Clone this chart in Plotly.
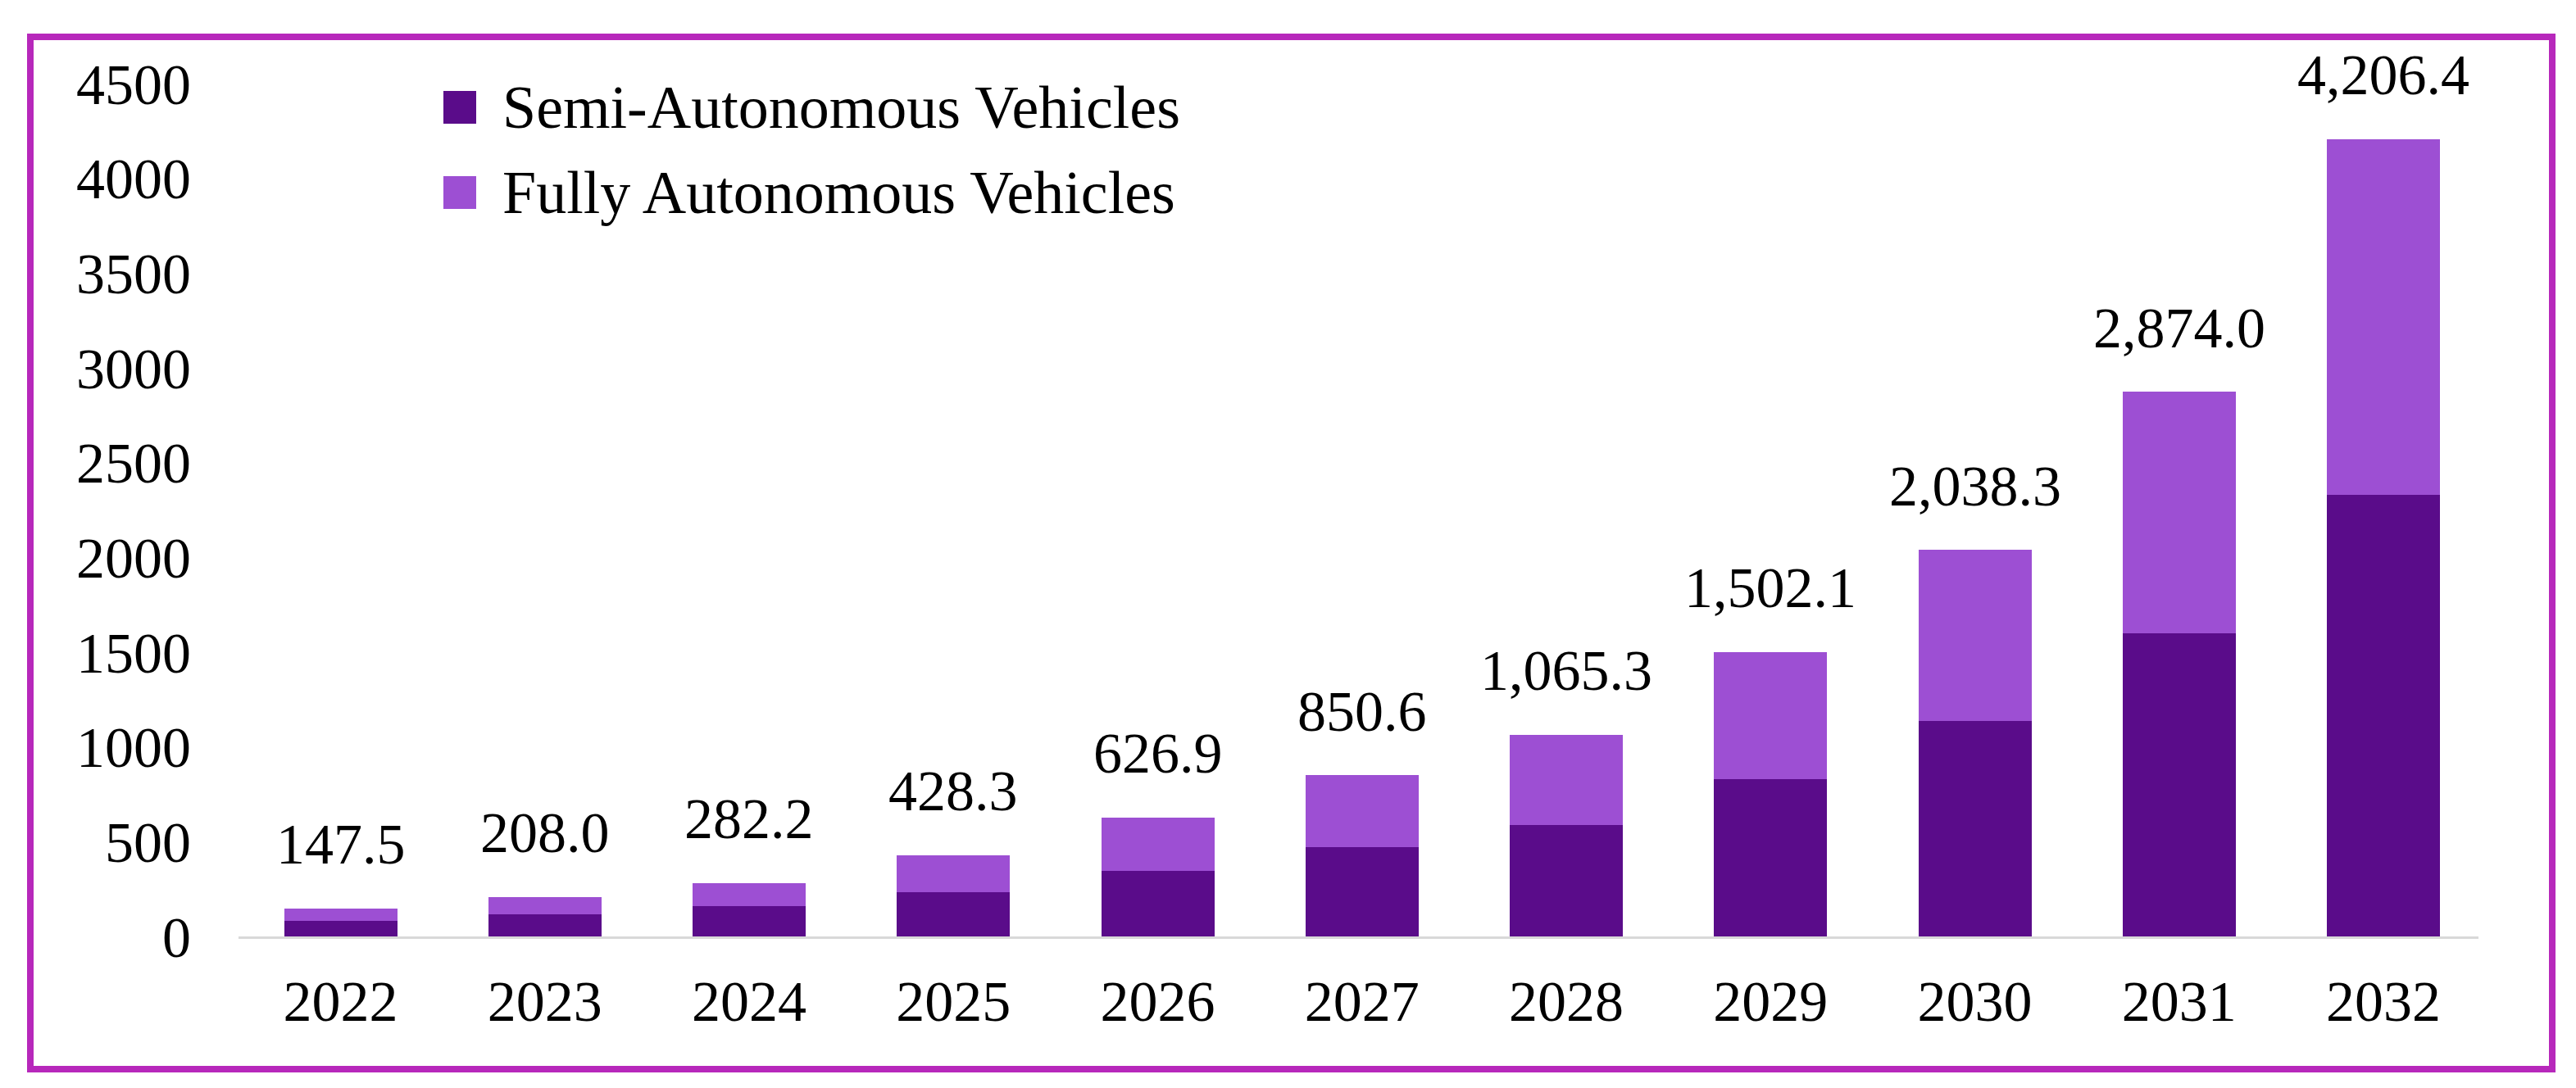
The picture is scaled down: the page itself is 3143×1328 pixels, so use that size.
import plotly.graph_objects as go

# data
years = ["2022", "2023", "2024", "2025", "2026", "2027", "2028", "2029", "2030", "2031", "2032"]
semi_autonomous = [84.0, 116.0, 159.0, 234.0, 344.0, 470.0, 586.0, 832.0, 1135.0, 1598.0, 2328.0]
fully_autonomous = [63.5, 92.0, 123.2, 194.3, 282.9, 380.6, 479.3, 670.1, 903.3, 1276.0, 1878.4]
y_ticks = [0, 500, 1000, 1500, 2000, 2500, 3000, 3500, 4000, 4500]

series_names = ["Semi-Autonomous Vehicles", "Fully Autonomous Vehicles"]
series_colors = ["#5a0c8a", "#9d4fd3"]

totals = [round(s + f, 1) for s, f in zip(semi_autonomous, fully_autonomous)]

# Constants
W, H = 3143, 1328
M_L, M_R, M_T, M_B = 283, 127, 94, 193
FONT = "Palatino Linotype, Book Antiqua, Palatino, Liberation Serif, serif"
FONT_SIZE = 70
BORDER_COLOR = "#b728bb"


def px_x(px):
    return (px - M_L) / (W - M_L - M_R)


def px_y(py):
    return (H - M_B - py) / (H - M_T - M_B)


fig = go.Figure()
for vals, name, color in zip([semi_autonomous, fully_autonomous], series_names, series_colors):
    fig.add_trace(go.Bar(
        x=years, y=vals,
        name=name,
        marker=dict(color=color, line=dict(width=0)),
        showlegend=False))

# total labels above the stacks (category index as x)
for i, tot in enumerate(totals):
    fig.add_annotation(
        x=i, y=tot, text=f"{tot:,.1f}",
        showarrow=False, yanchor="middle", yshift=78,
        font=dict(size=FONT_SIZE, color="black", family=FONT))

# legend drawn by hand (big square keys)
for i, (name, color) in enumerate(zip(series_names, series_colors)):
    cy = 123 + i * 104
    fig.add_shape(
        type="rect", xref="paper", yref="paper",
        x0=px_x(533), x1=px_x(573), y0=px_y(cy + 20), y1=px_y(cy - 20),
        fillcolor=color, line=dict(width=0))
    fig.add_annotation(
        xref="paper", yref="paper", x=px_x(603), y=px_y(cy),
        text=name, showarrow=False, xanchor="left", yanchor="middle",
        font=dict(size=74, color="black", family=FONT))

# outer frame
fig.add_shape(
    type="rect", xref="paper", yref="paper",
    x0=px_x(29), x1=px_x(3106), y0=px_y(1297), y1=px_y(37),
    line=dict(color=BORDER_COLOR, width=8), fillcolor="rgba(0,0,0,0)")

"""$$$$$$$$$$$$$$$ FORMATTING $$$$$$$$$$$$$$$$"""
fig.update_layout(
    width=W, height=H,
    barmode="stack", bargap=0.446,
    margin=dict(l=M_L, r=M_R, t=M_T, b=M_B, pad=0),
    paper_bgcolor="white", plot_bgcolor="white",
    font=dict(family=FONT, size=FONT_SIZE, color="black"),
    showlegend=False)
fig.update_xaxes(
    type="category",
    range=[-0.5, 10.465],
    showline=True, linecolor="#d9d9d9", linewidth=3,
    showgrid=False, zeroline=False, ticks="",
    ticklabelstandoff=16,
    tickfont=dict(size=FONT_SIZE, color="black", family=FONT))
fig.update_yaxes(
    range=[0, 4500],
    tickmode="array", tickvals=y_ticks, ticktext=[str(v) for v in y_ticks],
    showline=False, showgrid=False, zeroline=False, ticks="",
    ticklabelstandoff=57,
    tickfont=dict(size=FONT_SIZE, color="black", family=FONT))

fig.write_html("out.html")
